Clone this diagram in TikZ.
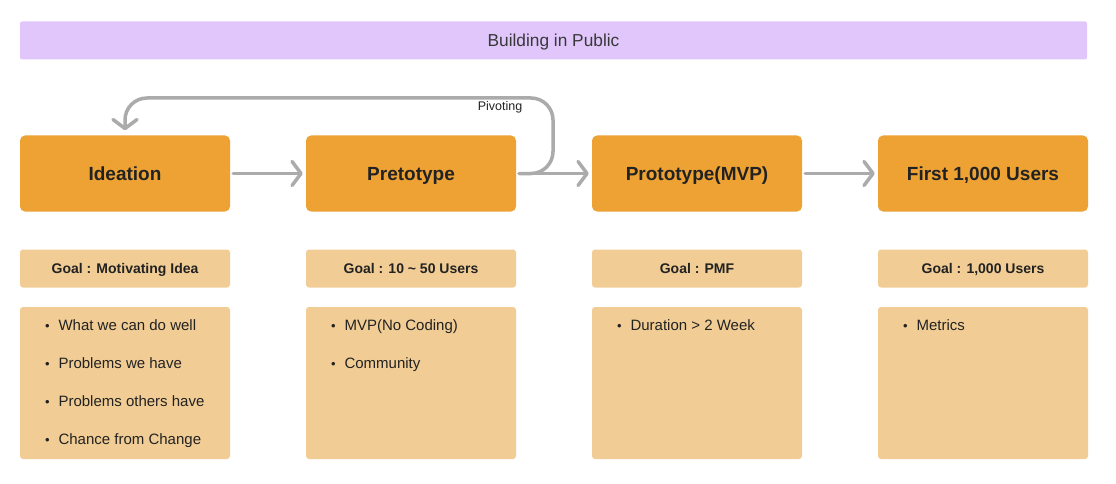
\documentclass[tikz,border=0pt]{standalone}
\usepackage{fontspec}
\setmainfont{Liberation Sans}
\definecolor{stageorange}{HTML}{EDA233}
\definecolor{lightorange}{HTML}{F1CD95}
\definecolor{lavender}{HTML}{E0C6FB}
\definecolor{arrowgray}{HTML}{ABABAB}
\definecolor{ink}{HTML}{222222}
\usetikzlibrary{positioning,arrows.meta}
\tikzstyle{banner}=[fill=lavender,rounded corners=2pt,minimum width=1067pt,minimum
height=38pt,text=ink!90,font=\fontsize{17.3}{20}\selectfont,text height=12.5pt,text depth=0pt]
\tikzstyle{stage}=[fill=stageorange,rounded corners=5pt,minimum width=210pt,minimum
height=76pt,text=ink,font=\fontsize{19}{22}\selectfont\bfseries,text height=14pt,text depth=0pt]
\tikzstyle{goal}=[fill=lightorange,rounded corners=3pt,minimum width=210pt,minimum
height=38pt,text=ink,font=\fontsize{14}{16}\selectfont\bfseries,text height=10.5pt,text depth=0pt]
\tikzstyle{notes}=[fill=lightorange,rounded corners=3pt,minimum width=210pt,minimum
height=152pt]
\tikzstyle{item}=[anchor=west,inner sep=0pt,text=ink,font=\fontsize{15}{17}\selectfont,
  text height=11pt,text depth=0pt]
\tikzstyle{flow}=[draw=arrowgray,line width=3.5pt,line cap=round,
  -{Straight Barb[length=9pt,width=24pt,line cap=round,round]}]
\newcommand{\dotmark}{{\fontsize{13}{13}\selectfont\raisebox{0.5pt}{\textbullet}}\hspace{9pt}}

\begin{document}
\begin{tikzpicture}[x=1pt, y=-1pt, node distance=286pt, on grid]
  \useasboundingbox (0,0) rectangle (1116,484);

  \node[banner] (title) at (553.5,40.5) {Building in Public};

  \node[stage] (idea) at (125,173.5) {Ideation};
  \node[stage, right=of idea] (pre) {Pretotype};
  \node[stage, right=of pre] (mvp) {Prototype(MVP)};
  \node[stage, right=of mvp] (users) {First 1,000 Users};

  \node[goal, below=95pt of idea] (ideagoal) {Goal : Motivating Idea};
  \node[goal, below=95pt of pre] (pregoal) {Goal : 10 \textasciitilde{} 50 Users};
  \node[goal, below=95pt of mvp] (mvpgoal) {Goal : PMF};
  \node[goal, below=95pt of users] (usersgoal) {Goal : 1,000 Users};

  \node[notes, below=114.5pt of ideagoal] (ideanotes) {};
  \node[notes, below=114.5pt of pregoal] (prenotes) {};
  \node[notes, below=114.5pt of mvpgoal] (mvpnotes) {};
  \node[notes, below=114.5pt of usersgoal] (usersnotes) {};

  \foreach \txt [count=\i from 0] in {What we can do well, Problems we have,
    Problems others have, Chance from Change}
    \node[item] (idea\i) at ([xshift=25pt, yshift={-18.5pt-38pt*\i}]ideanotes.north west)
      {\dotmark\txt};
  \foreach \txt [count=\i from 0] in {MVP(No Coding), Community}
    \node[item] (pre\i) at ([xshift=25pt, yshift={-18.5pt-38pt*\i}]prenotes.north west)
      {\dotmark\txt};
  \node[item] (mvp0) at ([xshift=25pt, yshift=-18.5pt]mvpnotes.north west)
    {\dotmark Duration > 2 Week};
  \node[item] (users0) at ([xshift=25pt, yshift=-18.5pt]usersnotes.north west)
    {\dotmark Metrics};

  \draw[flow, shorten <=3pt, shorten >=3pt] (idea) -- (pre);
  \draw[flow, shorten <=3pt, shorten >=3pt] (pre) -- (mvp);
  \draw[flow, shorten <=3pt, shorten >=3pt] (mvp) -- (users);

  \coordinate (turn) at (553,98);
  \draw[flow, rounded corners=22pt, shorten <=3pt, shorten >=5pt]
    (pre.east) -| (turn) -| (idea.north);
  \node[font=\fontsize{12.5}{14}\selectfont, text=ink] (pivot) at (500,107.5) {Pivoting};
\end{tikzpicture}
\end{document}
